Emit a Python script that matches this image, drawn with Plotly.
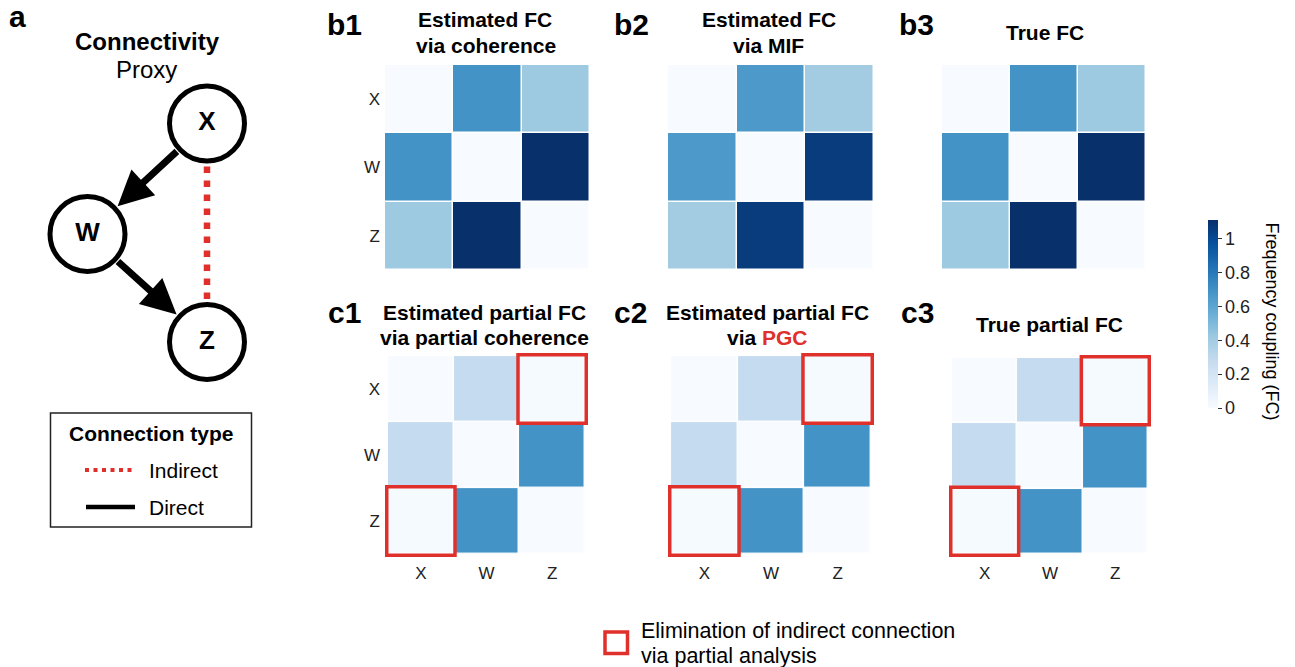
import math
import plotly.graph_objects as go

W_PX, H_PX = 1295, 667

# ---------------- data ----------------
labels = ["X", "W", "Z"]

fc_coherence = [[0.00, 0.69, 0.42],
                [0.69, 0.00, 1.11],
                [0.42, 1.11, 0.00]]
fc_mif = [[0.00, 0.66, 0.40],
          [0.66, 0.00, 1.06],
          [0.40, 1.06, 0.00]]
fc_true = [[0.00, 0.69, 0.42],
           [0.69, 0.00, 1.11],
           [0.42, 1.11, 0.00]]
pfc_partial_coh = [[0.00, 0.28, 0.01],
                   [0.28, 0.00, 0.69],
                   [0.01, 0.69, 0.00]]
pfc_pgc = [[0.00, 0.28, 0.01],
           [0.28, 0.00, 0.69],
           [0.01, 0.69, 0.00]]
pfc_true = [[0.00, 0.28, 0.01],
            [0.28, 0.00, 0.69],
            [0.01, 0.69, 0.00]]

cbar_ticks = [0, 0.2, 0.4, 0.6, 0.8, 1.0]
cbar_ticktext = ["0", "0.2", "0.4", "0.6", "0.8", "1"]

# diagram (panel a) data
node_names = ["X", "W", "Z"]
node_x = [207, 87.5, 207]
node_y = [123.5, 234, 342]
direct_edges = [("X", "W"), ("W", "Z")]
indirect_edges = [("X", "Z")]

# ---------------- helpers ----------------
def px2x(p):
    return p / W_PX

def px2y(p):
    return 1 - p / H_PX

BLUES = [[0.0, "#f7fbff"], [0.125, "#deebf7"], [0.25, "#c6dbef"],
         [0.375, "#9ecae1"], [0.5, "#6baed6"], [0.625, "#4292c6"],
         [0.75, "#2171b5"], [0.875, "#08519c"], [1.0, "#08306b"]]

FONT = "Liberation Sans, Arial, Helvetica, sans-serif"
RED = "#e0302c"
TICK = dict(size=17, color="#222", family=FONT)

fig = go.Figure()

panels = [
    # matrix, px x0, x1, y0, y1, show y labels, show x labels, red boxes
    (fc_coherence, 385, 590, 65, 270, True, False, False),
    (fc_mif, 668, 874, 65, 270, False, False, False),
    (fc_true, 942, 1146, 65, 270, False, False, False),
    (pfc_partial_coh, 385, 588, 353, 557, True, True, True),
    (pfc_pgc, 668, 874, 353, 557, False, True, True),
    (pfc_true, 949, 1151, 355, 557, False, True, True),
]

layout_axes = {}
shapes = []
for i, (mat, x0, x1, y0, y1, sy, sx, boxes) in enumerate(panels, start=1):
    xa = "x" if i == 1 else f"x{i}"
    ya = "y" if i == 1 else f"y{i}"
    fig.add_trace(go.Heatmap(
        z=mat, x=labels, y=labels, coloraxis="coloraxis",
        xgap=1.5, ygap=1.5, xaxis=xa, yaxis=ya, hoverinfo="z"))
    xkey = "xaxis" if i == 1 else f"xaxis{i}"
    ykey = "yaxis" if i == 1 else f"yaxis{i}"
    layout_axes[xkey] = dict(domain=[px2x(x0), px2x(x1)], anchor=ya,
                             showgrid=False, zeroline=False, showline=False,
                             ticks="", showticklabels=sx, fixedrange=True,
                             ticklabelstandoff=4, tickfont=TICK)
    layout_axes[ykey] = dict(domain=[px2y(y1), px2y(y0)], anchor=xa,
                             showgrid=False, zeroline=False, showline=False,
                             ticks="", showticklabels=sy, autorange="reversed",
                             fixedrange=True, ticklabelstandoff=4, tickfont=TICK)
    if boxes:
        # elimination of indirect connection: X<->Z cells
        for (r, c) in [(labels.index("X"), labels.index("Z")),
                       (labels.index("Z"), labels.index("X"))]:
            shapes.append(dict(type="rect", xref=xa, yref=ya,
                               x0=c - 0.52, x1=c + 0.52, y0=r - 0.52, y1=r + 0.52,
                               line=dict(color=RED, width=3.5)))

# ---------------- panel a diagram ----------------
R = 40
pos = {n: (x, y) for n, x, y in zip(node_names, node_x, node_y)}
for a, b in indirect_edges:
    fig.add_trace(go.Scatter(
        x=[pos[a][0], pos[b][0]], y=[pos[a][1] + 43, pos[b][1] - 41],
        mode="lines", line=dict(color=RED, width=6.5, dash="6.5px,7.5px"),
        xaxis="x7", yaxis="y7", hoverinfo="skip", showlegend=False))

fig.add_trace(go.Scatter(
    x=node_x, y=node_y, mode="markers+text", text=node_names,
    textfont=dict(size=26, color="black", family=FONT, weight="bold"),
    marker=dict(size=75, color="white", line=dict(color="black", width=5)),
    xaxis="x7", yaxis="y7", hoverinfo="skip", showlegend=False))

annotations = []
for a, b in direct_edges:
    (ax_, ay_), (bx_, by_) = pos[a], pos[b]
    dx, dy = bx_ - ax_, by_ - ay_
    L = math.hypot(dx, dy)
    ux, uy = dx / L, dy / L
    annotations.append(dict(
        x=bx_ - (R + 1) * ux, y=by_ - (R + 1) * uy,
        ax=ax_ + (R - 1) * ux, ay=ay_ + (R - 1) * uy,
        xref="x7", yref="y7", axref="x7", ayref="y7", text="",
        showarrow=True, arrowhead=2, arrowsize=1.0, arrowwidth=7,
        arrowcolor="black", standoff=0, startstandoff=0))

layout_axes["xaxis7"] = dict(domain=[0, 0.25], range=[0, 0.25 * W_PX], visible=False,
                             anchor="y7", fixedrange=True)
layout_axes["yaxis7"] = dict(domain=[0, 1], range=[H_PX, 0], visible=False,
                             anchor="x7", fixedrange=True)

# ---------------- texts ----------------
def txt(x, y, text, size, bold=False, color="black", xanchor="center",
        yanchor="middle", align="center", angle=0):
    annotations.append(dict(
        x=px2x(x), y=px2y(y), xref="paper", yref="paper", text=text,
        showarrow=False, xanchor=xanchor, yanchor=yanchor, align=align,
        textangle=angle,
        font=dict(size=size, color=color, family=FONT,
                  weight="bold" if bold else "normal")))

# panel letters
txt(7, 16.5, "a", 30, True, xanchor="left")
txt(325, 24.5, "b1", 30, True, xanchor="left")
txt(612, 24.5, "b2", 30, True, xanchor="left")
txt(897, 24.5, "b3", 30, True, xanchor="left")
txt(326, 312.5, "c1", 30, True, xanchor="left")
txt(612, 312.5, "c2", 30, True, xanchor="left")
txt(899, 312.5, "c3", 30, True, xanchor="left")

# titles
TS = 21
txt(147, 41.6, "Connectivity", 24, True)
txt(146.5, 69.6, "Proxy", 24)
txt(485, 19.6, "Estimated FC", TS, True)
txt(486, 45.6, "via coherence", TS, True)
txt(769, 19.6, "Estimated FC", TS, True)
txt(769, 45.6, "via MIF", TS, True)
txt(1045, 32.6, "True FC", TS, True)
txt(485, 312.6, "Estimated partial FC", TS, True)
txt(485, 337.6, "via partial coherence", TS, True)
txt(767, 312.6, "Estimated partial FC", TS, True)
txt(767, 337.6, "via <span style='color:" + RED + "'>PGC</span>", TS, True)
txt(1049, 324.6, "True partial FC", TS, True)

# legend of panel a
shapes.append(dict(type="rect", xref="paper", yref="paper",
                   x0=px2x(50.5), x1=px2x(251.5), y0=px2y(527), y1=px2y(413),
                   line=dict(color="#222", width=1.5)))
txt(151, 433.6, "Connection type", 21, True)
shapes.append(dict(type="line", xref="paper", yref="paper",
                   x0=px2x(85), x1=px2x(133), y0=px2y(470), y1=px2y(470),
                   line=dict(color=RED, width=4, dash="4px,4.5px")))
txt(147, 470.6, "Indirect", 21, xanchor="left")
shapes.append(dict(type="line", xref="paper", yref="paper",
                   x0=px2x(86), x1=px2x(135), y0=px2y(507), y1=px2y(507),
                   line=dict(color="black", width=4.5)))
txt(147, 507.6, "Direct", 21, xanchor="left")

# bottom legend
shapes.append(dict(type="rect", xref="paper", yref="paper",
                   x0=px2x(605), x1=px2x(627.5), y0=px2y(653.5), y1=px2y(632),
                   line=dict(color=RED, width=3.5)))
txt(639, 630.5, "Elimination of indirect connection", 21.5, xanchor="left")
txt(639, 655.5, "via partial analysis", 21.5, xanchor="left")

# colorbar title
txt(1271.5, 321, "Frequency coupling (FC)", 18, angle=90)

fig.update_layout(
    width=W_PX, height=H_PX, margin=dict(l=0, r=0, t=0, b=0),
    paper_bgcolor="white", plot_bgcolor="white",
    font=dict(family=FONT, color="#222"),
    showlegend=False,
    coloraxis=dict(
        colorscale=BLUES, cmin=0, cmax=1.11,
        colorbar=dict(
            x=px2x(1208), xanchor="left", y=px2y(314), yanchor="middle",
            len=188 / H_PX, lenmode="fraction", thickness=10,
            outlinewidth=0, xpad=0, ypad=0,
            tickvals=cbar_ticks, ticktext=cbar_ticktext,
            ticks="outside", ticklen=4, tickcolor="#333",
            tickfont=dict(size=18, color="#222", family=FONT))),
    shapes=shapes, annotations=annotations,
    **layout_axes)

fig.write_html("out.html", config={"displayModeBar": False},
               post_script="document.body.style.margin='0';document.body.style.overflow='hidden';")
